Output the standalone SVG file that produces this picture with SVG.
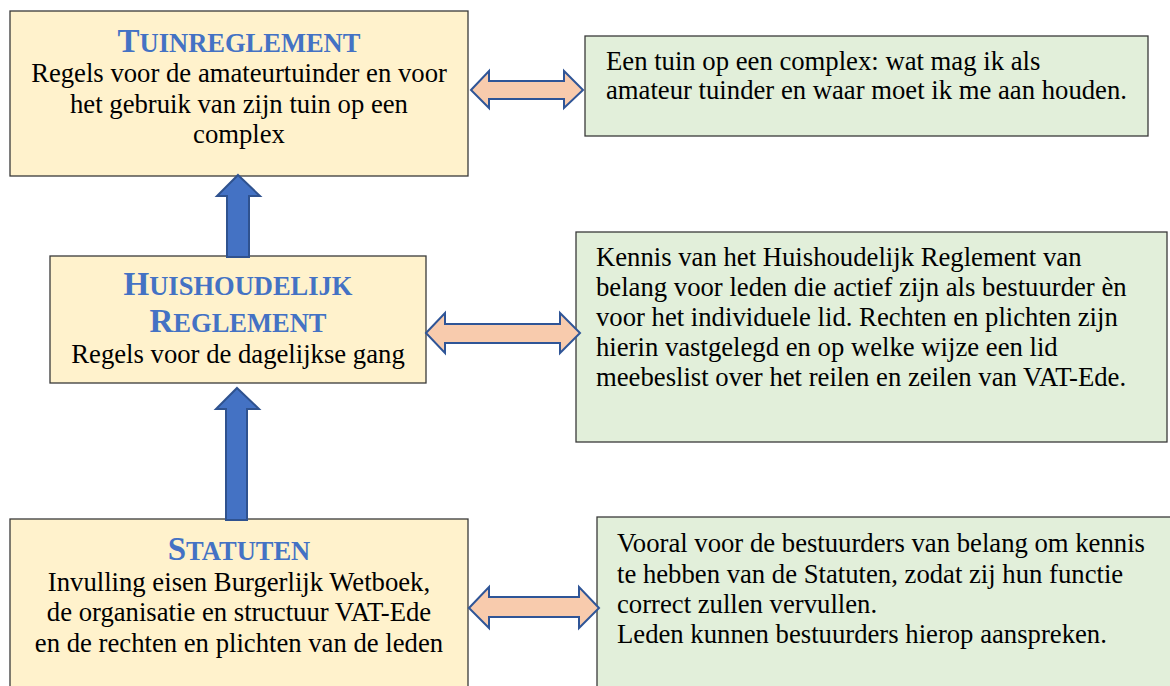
<svg xmlns="http://www.w3.org/2000/svg" width="1170" height="686" viewBox="0 0 1170 686">
<style>
.yb{fill:#FFF2CC;stroke:#3a3a3a;stroke-width:1.3}
.gb{fill:#E2EFDA;stroke:#3a3a3a;stroke-width:1.3}
text{font-family:'Liberation Serif','DejaVu Serif',serif}
.t{fill:#000;font-size:26.7px}
.c{text-anchor:middle}
.h{fill:#4472C4;font-weight:bold;text-anchor:middle;font-size:26.5px}
.hb{font-size:33px}
.da{fill:#F8CBAD;stroke:#2F5597;stroke-width:2}
.ua{fill:#4472C4;stroke:#2F528F;stroke-width:2}
</style>
<rect width="1170" height="686" fill="#fff"/>
<g id="tuinreglement">
<rect class="yb" x="10" y="11" width="458" height="165"/>
<text class="h" x="239" y="52"><tspan class="hb">T</tspan>UINREGLEMENT</text>
<text class="t c" x="239" y="82">Regels voor de amateurtuinder en voor</text>
<text class="t c" x="239" y="113">het gebruik van zijn tuin op een</text>
<text class="t c" x="239" y="143">complex</text>
</g>
<g id="huishoudelijk">
<rect class="yb" x="50" y="256" width="376" height="127"/>
<text class="h" x="238" y="295"><tspan class="hb">H</tspan>UISHOUDELIJK</text>
<text class="h" x="238" y="332"><tspan class="hb">R</tspan>EGLEMENT</text>
<text class="t c" x="238" y="363">Regels voor de dagelijkse gang</text>
</g>
<g id="statuten">
<rect class="yb" x="10" y="519" width="458" height="190"/>
<text class="h" x="239" y="560"><tspan class="hb">S</tspan>TATUTEN</text>
<text class="t c" x="239" y="591">Invulling eisen Burgerlijk Wetboek,</text>
<text class="t c" x="239" y="621">de organisatie en structuur VAT-Ede</text>
<text class="t c" x="239" y="652">en de rechten en plichten van de leden</text>
</g>
<g id="uitleg-tuin">
<rect class="gb" x="585" y="36" width="563" height="100"/>
<text class="t" x="606" y="70">Een tuin op een complex: wat mag ik als</text>
<text class="t" x="606" y="99">amateur tuinder en waar moet ik me aan houden.</text>
</g>
<g id="uitleg-hr">
<rect class="gb" x="576" y="232" width="591" height="210"/>
<text class="t" x="596" y="266">Kennis van het Huishoudelijk Reglement van</text>
<text class="t" x="596" y="296">belang voor leden die actief zijn als bestuurder èn</text>
<text class="t" x="596" y="326">voor het individuele lid. Rechten en plichten zijn</text>
<text class="t" x="596" y="356">hierin vastgelegd en op welke wijze een lid</text>
<text class="t" x="596" y="386">meebeslist over het reilen en zeilen van VAT-Ede.</text>
</g>
<g id="uitleg-statuten">
<rect class="gb" x="597" y="517" width="590" height="200"/>
<text class="t" x="617" y="552">Vooral voor de bestuurders van belang om kennis</text>
<text class="t" x="617" y="583">te hebben van de Statuten, zodat zij hun functie</text>
<text class="t" x="617" y="613">correct zullen vervullen.</text>
<text class="t" x="617" y="643">Leden kunnen bestuurders hierop aanspreken.</text>
</g>
<g id="connectors">
<polygon class="da" points="471,90 489,71 489,81 564,81 564,71 583,90 564,108 564,99 489,99 489,108"/>
<polygon class="da" points="426,333 445,313 445,324 560,324 560,313 580,333 560,353 560,343 445,343 445,353"/>
<polygon class="da" points="469,608 489,587 489,597 579,597 579,587 599,608 579,628 579,617 489,617 489,628"/>
<polygon class="ua" points="238,175 260,196 249,196 249,257 227,257 227,196 217,196"/>
<polygon class="ua" points="237,388 259,409 247,409 247,520 226,520 226,409 216,409"/>
</g>
</svg>
